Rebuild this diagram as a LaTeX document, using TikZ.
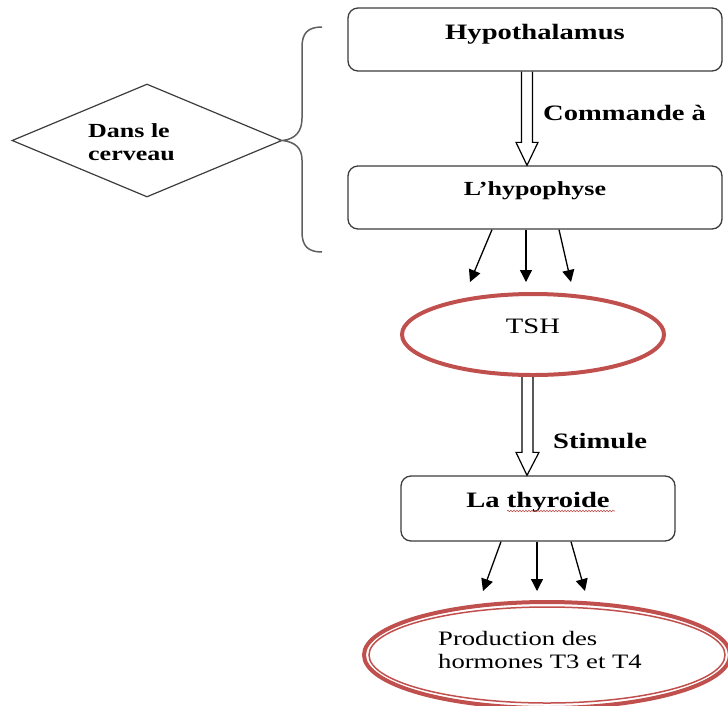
\documentclass[tikz,border=0pt]{standalone}
\usepackage{fontspec}
\setmainfont{Liberation Serif}[FakeStretch=1.3]
\usetikzlibrary{shapes.geometric,arrows.meta,calc,decorations.pathmorphing}
\definecolor{boxline}{RGB}{60,60,60}
\definecolor{redline}{RGB}{192,80,77}
\definecolor{braceline}{RGB}{95,95,95}
\begin{document}
\begin{tikzpicture}[x=1pt,y=-1pt,
  box/.style={draw=boxline,line width=1.3pt,rounded corners=10pt,inner sep=0pt,text height=15pt,font=\bfseries\fontsize{22}{26}\selectfont},
  oval/.style={ellipse,draw=redline,line width=4pt,inner sep=0pt},
  lab/.style={inner sep=0pt,font=\bfseries\fontsize{22}{26}\selectfont},
  dlab/.style={inner sep=0pt,anchor=base west,font=\bfseries\fontsize{20}{24}\selectfont},
  plab/.style={inner sep=0pt,anchor=base west,font=\fontsize{20.5}{24}\selectfont},
  hollow/.style={draw=black,line width=1.2pt,line join=miter},
  arr/.style={draw=black,line width=1.3pt,-{Triangle[length=12pt,width=12pt]}},
  bracel/.style={draw=braceline,line width=1.5pt}]
\useasboundingbox (0,0) rectangle (728,705);
\clip (0,0) rectangle (728,705);

% boxes
\node[box,minimum width=374,minimum height=63,text depth=15pt] (hyp) at (535,39.5) {Hypothalamus};
\node[box,minimum width=374,minimum height=63,text depth=20pt,font=\bfseries\fontsize{20}{24}\selectfont] (hypo) at (535,197.5) {L’hypophyse};
\node[box,minimum width=274,minimum height=65,text depth=18pt] (thy) at (538,508.5) {La thyroide};
\draw[redline,line width=0.6pt,decorate,decoration={snake,amplitude=0.8pt,segment length=3pt}] (507,511) -- (615,511);

% ellipses
\node[oval,minimum width=262,minimum height=81,text height=15pt,text depth=18pt,font=\fontsize{22}{26}\selectfont] (tsh) at (533,334.5) {TSH};
\node[oval,minimum width=366,minimum height=106] (prod) at (547,655) {};
\draw[redline,line width=1.5pt] (prod.center) ellipse [x radius=178, y radius=48];
\node[plab] (p1) at (438,645) {Production des};
\node[plab] (p2) at (438,668) {hormones  T3  et  T4};

% diamond and brace
\node[diamond,draw=boxline,line width=1.2pt,minimum width=270,minimum height=113,inner sep=0pt] (dia) at (147,140.5) {};
\node[dlab] (d1) at (88,137) {Dans le};
\node[dlab] (d2) at (88,160) {cerveau};
\draw[bracel] (322,27) .. controls (308,27) and (302,33) .. (302,47) -- (302,118)
  .. controls (302,132) and (295,139) .. (dia.east)
  .. controls (295,142) and (302,148) .. (302,160) -- (302,232)
  .. controls (302,246) and (308,252) .. (322,252);

% hollow arrows
\draw[hollow] ($(hyp.south)+(-13.5,0)$) -- ($(hypo.north)+(-13.5,-23)$) -- ($(hypo.north)+(-19,-23)$)
  -- ($(hypo.north)+(-8,0)$) -- ($(hypo.north)+(3,-23)$) -- ($(hypo.north)+(-2.5,-23)$) -- ($(hyp.south)+(-2.5,0)$);
\node[lab,anchor=base west] (cmd) at (543,120) {Commande à};

\draw[hollow] ($(tsh.south)+(-11,0)$) -- ($(thy.north)+(-16,-23)$) -- ($(thy.north)+(-22,-23)$)
  -- ($(thy.north)+(-11,0)$) -- ($(thy.north)+(1,-23)$) -- ($(thy.north)+(-5,-23)$) -- ($(tsh.south)+(0,0)$);
\node[lab,anchor=base west] (stim) at (553,448) {Stimule};

% thin arrows
\draw[arr] ($(hypo.south)+(-43,0)$) -- ($(tsh.north)+(-63,-10)$);
\draw[arr] ($(hypo.south)+(-9,0)$) -- ($(tsh.north)+(-7,-10)$);
\draw[arr] ($(hypo.south)+(24,0)$) -- ($(tsh.north)+(38,-10)$);

\draw[arr] ($(thy.south)+(-37,0)$) -- ($(prod.north)+(-64,-9)$);
\draw[arr] ($(thy.south)+(-1,0)$) -- ($(prod.north)+(-10,-9)$);
\draw[arr] ($(thy.south)+(33,0)$) -- ($(prod.north)+(38,-9)$);
\end{tikzpicture}
\end{document}
